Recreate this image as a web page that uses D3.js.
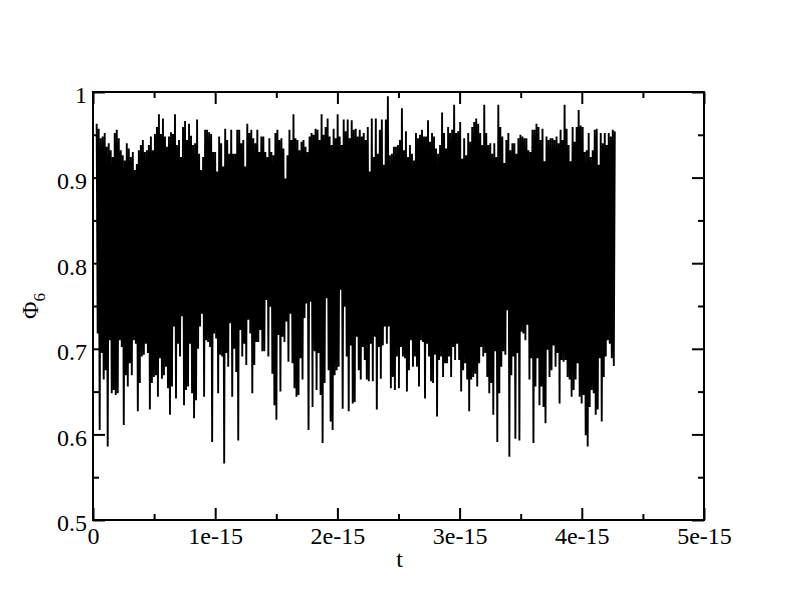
<!DOCTYPE html>
<html><head><meta charset="utf-8">
<script src="https://cdn.jsdelivr.net/npm/d3@7"></script>
<style>body{margin:0;background:#fff}</style>
</head><body>
<script>
// time range covered by the recorded samples
const tRange = [0.03e-15, 4.27e-15];
// local maxima of Phi_6 read left to right
const phiHigh = [
.963,.957,.946,.948,.952,.936,.940,.932,.924,.952,.956,.946,.932,.926,.920,.940,.934,.924,.930,.909,.916,.932,.938,.944,.930,.932,.938,.948,.932,.951,.959,.974,.951,.969,.948,.936,.948,.953,.951,.974,.938,.944,.924,.959,.966,.944,.963,.949,.938,.940,.968,.928,.909,.924,.956,.956,.953,.951,.930,.930,.907,.948,.940,.913,
.957,.944,.928,.956,.928,.928,.956,.956,.940,.944,.913,.963,.952,.956,.946,.940,.956,.930,.948,.948,.930,.924,.946,.930,.926,.952,.956,.944,.946,.934,.899,.926,.956,.944,.974,.946,.944,.932,.942,.944,.936,.930,.948,.952,.950,.957,.956,.944,.974,.950,.959,.969,.948,.938,.957,.946,.974,.948,.938,.968,.954,.968,.946,.967,.956,
.957,.948,.956,.948,.952,.944,.959,.907,.969,.924,.969,.928,.956,.968,.915,.968,.995,.926,.928,.936,.936,.938,.944,.981,.932,.954,.924,.938,.928,.920,.952,.946,.950,.956,.948,.948,.967,.942,.952,.948,.934,.928,.938,.976,.952,.934,.959,.952,.956,.985,.952,.954,.965,.922,.946,.926,.952,.942,.959,.965,.969,.963,.952,.938,
.985,.952,.938,.940,.928,.940,.924,.985,.959,.948,.917,.944,.952,.932,.940,.940,.928,.946,.950,.948,.946,.946,.932,.930,.956,.956,.963,.959,.944,.957,.919,.948,.944,.946,.946,.944,.948,.940,.956,.944,.985,.957,.938,.919,.959,.942,.959,.979,.961,.959,.930,.932,.952,.924,.932,.956,.957,.915,.952,.940,.952,.938,.952,.948,.956,.954
];
// local minima of Phi_6 read left to right
const phiLow = [
.718,.605,.695,.664,.675,.586,.710,.648,.652,.646,.648,.710,.702,.611,.669,.656,.683,.669,.710,.706,.627,.660,.693,.691,.693,.706,.695,.629,.660,.667,.669,.644,.689,.665,.669,.679,.654,.623,.656,.726,.642,.706,.691,.738,.634,.652,.656,.706,.648,.619,.640,.700,.726,.741,.644,.710,.708,.702,.591,.718,.712,.648,.693,.691,.566,.695,.697,
.679,.730,.644,.700,.673,.593,.722,.691,.706,.681,.734,.718,.648,.681,.708,.708,.722,.697,.697,.757,.691,.749,.671,.634,.617,.716,.650,.714,.708,.732,.685,.741,.683,.654,.644,.646,.689,.664,.736,.753,.605,.755,.632,.704,.697,.652,.695,.646,.590,.660,.759,.675,.615,.605,.669,.675,.679,.769,.630,.749,.691,.627,.704,.636,.638,.714,
.675,.664,.702,.687,.664,.662,.706,.662,.714,.629,.702,.665,.704,.726,.706,.726,.654,.667,.652,.691,.691,.654,.702,.691,.689,.650,.675,.710,.679,.691,.679,.656,.710,.708,.642,.706,.691,.662,.660,.693,.621,.687,.691,.667,.683,.683,.691,.667,.702,.687,.706,.687,.650,.675,.683,.664,.627,.664,.667,.671,.656,.683,.702,.691,.695,
.712,.667,.648,.660,.623,.697,.591,.648,.679,.697,.693,.745,.574,.669,.691,.595,.695,.593,.720,.718,.710,.728,.664,.689,.590,.656,.689,.634,.656,.632,.613,.699,.667,.675,.704,.679,.695,.636,.687,.685,.687,.667,.664,.644,.704,.652,.664,.683,.644,.636,.646,.599,.586,.632,.652,.648,.623,.629,.689,.615,.667,.691,.710,.706,.689,.680
];
const xTicks = [0, 1e-15, 2e-15, 3e-15, 4e-15, 5e-15];
const xTickLabels = ["0", "1e-15", "2e-15", "3e-15", "4e-15", "5e-15"];
const yTicks = [0.5, 0.6, 0.7, 0.8, 0.9, 1];
const yTickLabels = ["0.5", "0.6", "0.7", "0.8", "0.9", "1"];

const W = 792, H = 612;
const L = 93, R = 704, T = 92, B = 520;
const x = d3.scaleLinear().domain([0, 5e-15]).range([L, R]);
const y = d3.scaleLinear().domain([0.5, 1]).range([B, T]);

const svg = d3.select("body").append("svg").attr("width", W).attr("height", H)
  .style("font-family", "'Liberation Serif', 'Times New Roman', serif");

// data: order maxima and minima along time; consecutive extremes of the same kind share a sample time
const span = tRange[1] - tRange[0];
const ordered = phiHigh.map((v, i) => ({f: i / (phiHigh.length - 1), v, hi: true}))
  .concat(phiLow.map((v, i) => ({f: (i + 0.5) / phiLow.length, v, hi: false})))
  .sort((a, b) => a.f - b.f);
let slot = 0;
ordered.forEach((d, k) => { if (k > 0 && d.hi !== ordered[k - 1].hi) slot++; d.slot = slot; });
const pts = ordered.map(d => ({t: tRange[0] + span * d.slot / slot, v: d.v}));

svg.append("path").datum(pts)
  .attr("fill", "none").attr("stroke", "#000").attr("stroke-width", 1.9)
  .attr("stroke-linejoin", "miter").attr("stroke-miterlimit", 1)
  .attr("d", d3.line().x(d => x(d.t)).y(d => y(d.v)));

const xMinor = d3.range(0.5e-15, 5e-15, 1e-15);
const yMinor = [0.55, 0.65, 0.75, 0.85, 0.95];
const fmtX = d => xTickLabels[xTicks.indexOf(d)];
const fmtY = d => yTickLabels[yTicks.indexOf(d)];

function styleAxis(g) {
  g.attr("font-size", null).attr("font-family", null);
  g.select(".domain").remove();
  g.selectAll("line").attr("stroke", "#000").attr("stroke-width", 2);
  g.selectAll("text").attr("fill", "#000")
    .attr("font-size", 24).attr("font-family", "'Liberation Serif', 'Times New Roman', serif");
}
// bottom
svg.append("g").attr("transform", `translate(0,${B})`)
  .call(d3.axisBottom(x).tickValues(xTicks).tickFormat(fmtX).tickSize(-12).tickPadding(7)).call(styleAxis);
svg.append("g").attr("transform", `translate(0,${B})`)
  .call(d3.axisBottom(x).tickValues(xMinor).tickFormat("").tickSize(-6)).call(styleAxis);
// top
svg.append("g").attr("transform", `translate(0,${T})`)
  .call(d3.axisTop(x).tickValues(xTicks).tickFormat("").tickSize(-12)).call(styleAxis);
svg.append("g").attr("transform", `translate(0,${T})`)
  .call(d3.axisTop(x).tickValues(xMinor).tickFormat("").tickSize(-6)).call(styleAxis);
// left
svg.append("g").attr("transform", `translate(${L},0)`)
  .call(d3.axisLeft(y).tickValues(yTicks).tickFormat(fmtY).tickSize(-12).tickPadding(6)).call(styleAxis)
  .selectAll("text").attr("dy", "0.45em");
svg.append("g").attr("transform", `translate(${L},0)`)
  .call(d3.axisLeft(y).tickValues(yMinor).tickFormat("").tickSize(-6)).call(styleAxis);
// right
svg.append("g").attr("transform", `translate(${R},0)`)
  .call(d3.axisRight(y).tickValues(yTicks).tickFormat("").tickSize(-12)).call(styleAxis);
svg.append("g").attr("transform", `translate(${R},0)`)
  .call(d3.axisRight(y).tickValues(yMinor).tickFormat("").tickSize(-6)).call(styleAxis);

// frame
svg.append("rect").attr("x", L).attr("y", T).attr("width", R - L).attr("height", B - T)
  .attr("fill", "none").attr("stroke", "#000").attr("stroke-width", 2);

// axis titles
svg.append("text").attr("x", (L + R) / 2 + 1).attr("y", 567).attr("text-anchor", "middle")
  .attr("font-size", 24).text("t");
const yl = svg.append("text").attr("transform", `translate(38,${(T + B) / 2}) rotate(-90)`)
  .attr("text-anchor", "middle").attr("font-size", 24);
yl.append("tspan").text("Φ");
yl.append("tspan").attr("dy", 7).attr("font-size", 17).text("6");
</script>
</body></html>
